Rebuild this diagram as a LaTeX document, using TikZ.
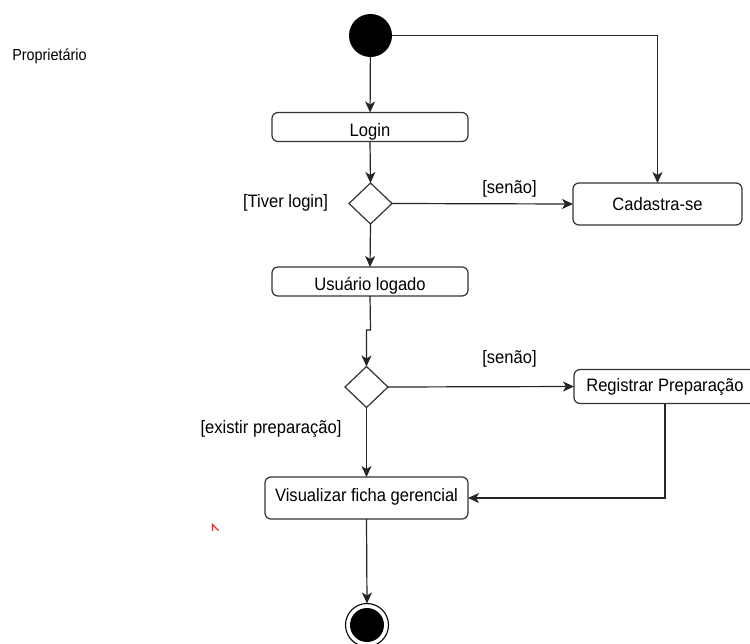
\documentclass[tikz,border=0pt]{standalone}
\usepackage{fontspec}
\setmainfont{Liberation Sans}
\usetikzlibrary{arrows.meta,shapes.geometric}
\begin{document}
\begin{tikzpicture}[x=1pt,y=-1pt,
  every node/.style={inner sep=0pt,outer sep=0pt},
  ln/.style={line width=1.2pt,draw=black!85},
  arr/.style={ln,-{Stealth[length=11pt,width=10pt,inset=3pt]}},
  actbox/.style={draw=black!80,line width=1.2pt,rounded corners=6pt,fill=white},
  dec/.style={diamond,draw=black!80,line width=1.2pt,fill=white,shape aspect=1.05,
    minimum width=43pt,minimum height=41pt},
  txt/.style={font=\fontsize{18}{21}\selectfont,xscale=0.92},
]
\useasboundingbox (0,0) rectangle (750,643);
\clip (0,0) rectangle (750,643);
\fill[white] (0,0) rectangle (750,643);

\node[font=\fontsize{16}{19}\selectfont,xscale=0.9] (owner) at (49.5,56) {Proprietário};

\node[circle,fill=black,minimum size=43pt] (start) at (370.5,35.5) {};
\node[actbox,minimum width=196pt,minimum height=29pt] (login) at (370,127) {};
\node[txt] (loginT) at (370,132) {Login};
\node[dec] (d1) at (370.5,203.5) {};
\node[actbox,minimum width=169pt,minimum height=42pt] (cad) at (657.5,204) {};
\node[txt] (cadT) at (657.5,204) {Cadastra-se};
\node[actbox,minimum width=196pt,minimum height=29pt] (usr) at (370,281.5) {};
\node[txt] (usrT) at (370,286) {Usuário logado};
\node[dec] (d2) at (366.5,387) {};
\node[actbox,minimum width=182pt,minimum height=34pt] (reg) at (665,386.5) {};
\node[txt] (regT) at (665,387) {Registrar Preparação};
\node[actbox,minimum width=203pt,minimum height=42pt] (vis) at (366.5,498) {};
\node[txt] (visT) at (366.5,497) {Visualizar ficha gerencial};
\node[circle,draw=black,line width=1.1pt,minimum size=43pt] (end) at (367,625) {};
\node[circle,fill=black,minimum size=34pt] (endin) at (end.center) {};

\node[txt] (l1) at (285.5,203) {[Tiver login]};
\node[txt] (l2) at (509.5,189) {[senão]};
\node[txt] (l3) at (509.5,359) {[senão]};
\node[txt] (l4) at (271,429) {[existir preparação]};

\coordinate (c1) at (657.5,35.5);
\coordinate (j1) at (370.5,330);
\coordinate (c2) at (665,498);

\draw[arr] (start) -- (login);
\draw[arr] (start.east) -- (c1) -- (cad.north);
\draw[arr] (login.south) -- (d1.north);
\draw[arr] (d1.east) -- (cad.west);
\draw[arr] (d1.south) -- (usr.north);
\draw[arr] (usr.south) -- (j1) -| (d2.north);
\draw[arr] (d2.east) -- (reg.west);
\draw[arr] (d2.south) -- (vis.north);
\draw[arr] (reg.south) -- (c2) -- (vis.east);
\draw[arr] (vis.south) -- (end.north);

\draw[red!85,line width=1.2pt,line join=miter] (212.5,531) -- (212.5,524.5) -- (218.5,530.5);
\end{tikzpicture}
\end{document}
